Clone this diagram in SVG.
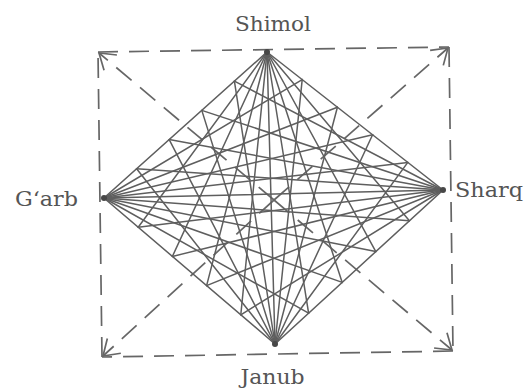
<svg xmlns="http://www.w3.org/2000/svg" width="526" height="391" viewBox="0 0 526 391">
<style>
.lbl{font-family:"DejaVu Serif","Liberation Serif",serif;font-size:21px;fill:#555555}
.edge{stroke:#5e5e5e;stroke-width:1.5;fill:none;stroke-linecap:round}
.dash{stroke:#666666;stroke-width:1.7;fill:none;stroke-dasharray:20 11}
.vtx{fill:#474747}
</style>
<defs>
<marker id="arr" markerUnits="userSpaceOnUse" markerWidth="30" markerHeight="30" refX="0" refY="0" viewBox="-20 -15 30 30" orient="auto" overflow="visible">
<path d="M-15,-10 L0,0 L-15,10" fill="none" stroke="#666666" stroke-width="1.7"/>
</marker>
</defs>
<rect width="526" height="391" fill="#ffffff"/>
<g id="frame">
<path class="dash" d="M98,52 L449,47"/>
<path class="dash" d="M449,47 L453,351"/>
<path class="dash" d="M453,351 L102,357"/>
<path class="dash" d="M102,357 L98,52"/>
</g>
<g id="connectors">
<g id="diagonals">
<line class="dash" x1="274" y1="200" x2="99" y2="53" marker-end="url(#arr)"/>
<line class="dash" x1="274" y1="200" x2="448" y2="48" marker-end="url(#arr)"/>
<line class="dash" x1="274" y1="200" x2="452" y2="350" marker-end="url(#arr)"/>
<line class="dash" x1="274" y1="200" x2="103" y2="356" marker-end="url(#arr)"/>
</g>
<g id="diamond">
<path class="edge" d="M267,52 L443,190 L275,344 L104,198 Z"/>
<line class="edge" x1="267" y1="52" x2="275" y2="344"/>
<line class="edge" x1="104" y1="198" x2="443" y2="190"/>
</g>
<g id="from-shimol">
<line class="edge" x1="267" y1="52" x2="409.4" y2="220.8"/>
<line class="edge" x1="267" y1="52" x2="375.8" y2="251.6"/>
<line class="edge" x1="267" y1="52" x2="342.2" y2="282.4"/>
<line class="edge" x1="267" y1="52" x2="308.6" y2="313.2"/>
<line class="edge" x1="267" y1="52" x2="240.8" y2="314.8"/>
<line class="edge" x1="267" y1="52" x2="206.6" y2="285.6"/>
<line class="edge" x1="267" y1="52" x2="172.4" y2="256.4"/>
<line class="edge" x1="267" y1="52" x2="138.2" y2="227.2"/>
</g>
<g id="from-sharq">
<line class="edge" x1="443" y1="190" x2="136.6" y2="168.8"/>
<line class="edge" x1="443" y1="190" x2="169.2" y2="139.6"/>
<line class="edge" x1="443" y1="190" x2="201.8" y2="110.4"/>
<line class="edge" x1="443" y1="190" x2="234.4" y2="81.2"/>
<line class="edge" x1="443" y1="190" x2="240.8" y2="314.8"/>
<line class="edge" x1="443" y1="190" x2="206.6" y2="285.6"/>
<line class="edge" x1="443" y1="190" x2="172.4" y2="256.4"/>
<line class="edge" x1="443" y1="190" x2="138.2" y2="227.2"/>
</g>
<g id="from-janub">
<line class="edge" x1="275" y1="344" x2="136.6" y2="168.8"/>
<line class="edge" x1="275" y1="344" x2="169.2" y2="139.6"/>
<line class="edge" x1="275" y1="344" x2="201.8" y2="110.4"/>
<line class="edge" x1="275" y1="344" x2="234.4" y2="81.2"/>
<line class="edge" x1="275" y1="344" x2="302.2" y2="79.6"/>
<line class="edge" x1="275" y1="344" x2="337.4" y2="107.2"/>
<line class="edge" x1="275" y1="344" x2="372.6" y2="134.8"/>
<line class="edge" x1="275" y1="344" x2="407.8" y2="162.4"/>
</g>
<g id="from-garb">
<line class="edge" x1="104" y1="198" x2="302.2" y2="79.6"/>
<line class="edge" x1="104" y1="198" x2="337.4" y2="107.2"/>
<line class="edge" x1="104" y1="198" x2="372.6" y2="134.8"/>
<line class="edge" x1="104" y1="198" x2="407.8" y2="162.4"/>
<line class="edge" x1="104" y1="198" x2="409.4" y2="220.8"/>
<line class="edge" x1="104" y1="198" x2="375.8" y2="251.6"/>
<line class="edge" x1="104" y1="198" x2="342.2" y2="282.4"/>
<line class="edge" x1="104" y1="198" x2="308.6" y2="313.2"/>
</g>
</g>
<g id="shimol">
<circle class="vtx" cx="267" cy="52" r="3"/>
<text class="lbl" x="273" y="31" text-anchor="middle" textLength="76" lengthAdjust="spacingAndGlyphs">Shimol</text>
</g>
<g id="sharq">
<circle class="vtx" cx="443" cy="190" r="3"/>
<text class="lbl" x="455" y="197" textLength="68" lengthAdjust="spacingAndGlyphs">Sharq</text>
</g>
<g id="janub">
<circle class="vtx" cx="275" cy="344" r="3"/>
<text class="lbl" x="272.5" y="384" text-anchor="middle" textLength="64" lengthAdjust="spacingAndGlyphs">Janub</text>
</g>
<g id="garb">
<circle class="vtx" cx="104" cy="198" r="3"/>
<text class="lbl" x="15" y="206" textLength="63" lengthAdjust="spacingAndGlyphs">G‘arb</text>
</g>
</svg>
